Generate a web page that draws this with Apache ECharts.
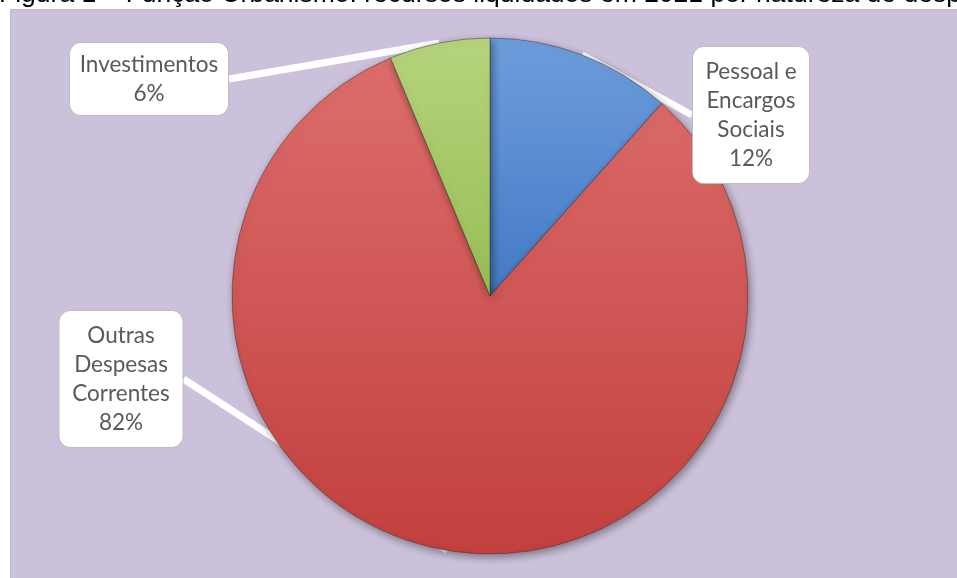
<!DOCTYPE html>
<html><head><meta charset="utf-8">
<script src="https://cdn.jsdelivr.net/npm/echarts@6/dist/echarts.min.js"></script>
<style>html,body{margin:0;padding:0;background:#fff;overflow:hidden}#c{width:957px;height:578px}</style>
</head><body><div id="c"></div>
<script>
// ---- data ----
const titleText = 'Figura 1 – Função Urbanismo: recursos liquidados em 2021 por natureza de despesa';
const categories = ['Pessoal e Encargos Sociais', 'Outras Despesas Correntes', 'Investimentos'];
const labelTexts = ['Pessoal e\nEncargos\nSociais', 'Outras\nDespesas\nCorrentes', 'Investimentos'];
const values = [11.6, 82.1, 6.3];

// ---- styles ----
const sliceTop = ['#6E9DDB', '#DC6D6B', '#B6D47C'];
const sliceBottom = ['#437AC6', '#C2403E', '#97BE55'];
const labelCenters = [[751, 115], [121, 379], [149, 79]];
const labelWidths = [96, 103, 142];
const labelPads = [[10, 10], [10, 10], [7, 8]];

const chart = echarts.init(document.getElementById('c'), null, {renderer: 'canvas'});

const seriesData = categories.map((name, i) => ({
  name: name,
  value: values[i],
  itemStyle: {
    color: new echarts.graphic.LinearGradient(0, 0, 0, 1, [
      {offset: 0, color: sliceTop[i]},
      {offset: 1, color: sliceBottom[i]}
    ])
  },
  label: {width: labelWidths[i], padding: labelPads[i]}
}));

chart.setOption({
  backgroundColor: '#ffffff',
  animation: false,
  graphic: [
    {type: 'rect', shape: {x: 10.5, y: 9.5, width: 960, height: 580},
     style: {fill: '#CCC1DA', stroke: '#BFBFBF', lineWidth: 1}, silent: true},
    {type: 'text', x: -1, y: -5,
     style: {text: titleText, fontSize: 26.5, fontFamily: '"Liberation Sans", Arial, sans-serif',
             fill: '#000000', verticalAlign: 'middle', align: 'left'}, silent: true}
  ],
  series: [{
    type: 'pie',
    center: [490, 296],
    radius: [0, 258],
    startAngle: 90,
    clockwise: true,
    percentPrecision: 0,
    data: seriesData,
    itemStyle: {
      borderColor: 'rgba(60,40,40,0.45)',
      borderWidth: 1,
      shadowBlur: 8,
      shadowColor: 'rgba(0,0,0,0.4)',
      shadowOffsetX: 2,
      shadowOffsetY: 3
    },
    label: {
      show: true,
      formatter: function (p) { return labelTexts[p.dataIndex] + '\n' + p.percent + '%'; },
      color: '#595959',
      fontSize: 22.5,
      lineHeight: 29,
      fontFamily: 'Lato, "Open Sans", sans-serif',
      backgroundColor: '#ffffff',
      borderColor: '#BFBFBF',
      borderWidth: 1,
      borderRadius: 11,
      overflow: 'none',
      align: 'center'
    },
    labelLine: {
      show: true,
      length: 0,
      length2: 0,
      lineStyle: {color: '#ffffff', width: 7}
    },
    labelLayout: function (p) {
      const c = labelCenters[p.dataIndex];
      return {x: c[0], y: c[1], align: 'center', verticalAlign: 'middle'};
    },
    emphasis: {disabled: true}
  }]
});
</script>
</body></html>
